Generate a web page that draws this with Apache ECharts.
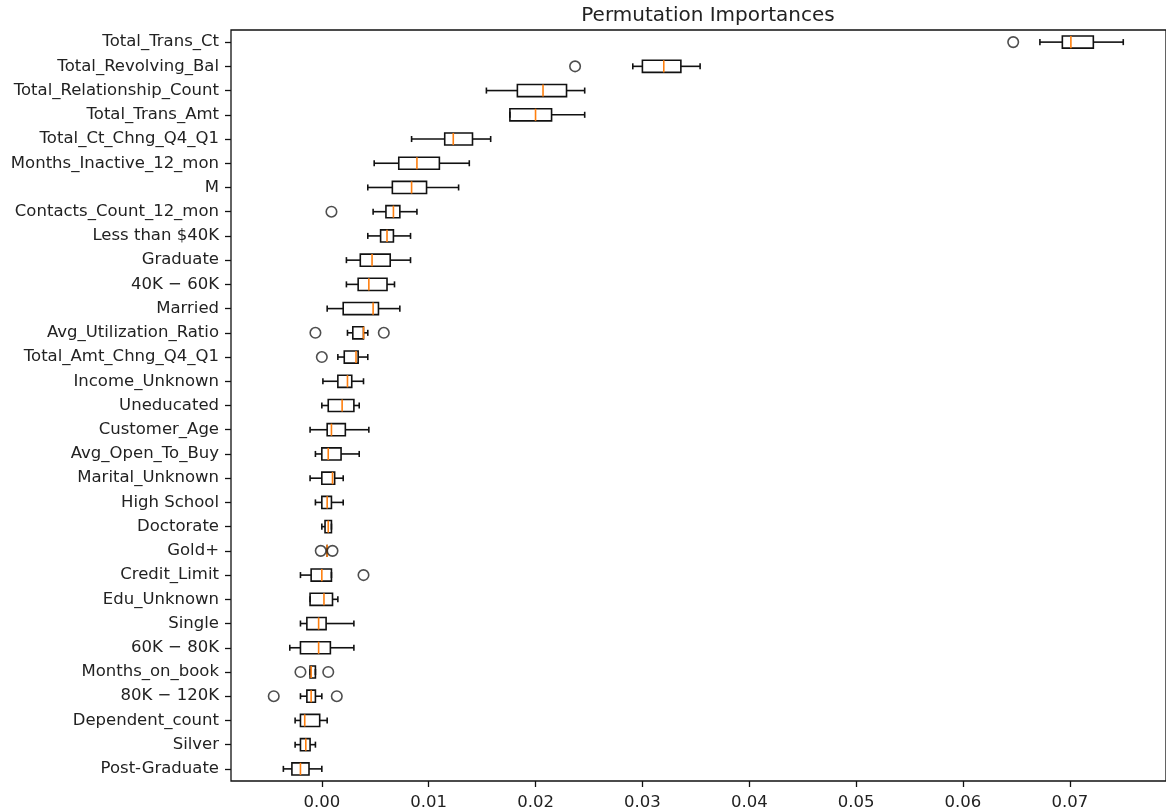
<!DOCTYPE html>
<html>
<head>
<meta charset="utf-8">
<script src="https://cdn.jsdelivr.net/npm/echarts@6/dist/echarts.min.js"></script>
<style>
html,body{margin:0;padding:0;background:#fff;}
#chart{width:1166px;height:812px;}
</style>
</head>
<body>
<div id="chart"></div>
<script>
var categories = ["Total_Trans_Ct","Total_Revolving_Bal","Total_Relationship_Count","Total_Trans_Amt","Total_Ct_Chng_Q4_Q1","Months_Inactive_12_mon","M","Contacts_Count_12_mon","Less than $40K","Graduate","40K \u2212 60K","Married","Avg_Utilization_Ratio","Total_Amt_Chng_Q4_Q1","Income_Unknown","Uneducated","Customer_Age","Avg_Open_To_Buy","Marital_Unknown","High School","Doctorate","Gold+","Credit_Limit","Edu_Unknown","Single","60K \u2212 80K","Months_on_book","80K \u2212 120K","Dependent_count","Silver","Post-Graduate"];
var whiskerLow = [0.0672,0.0291,0.0154,0.0176,0.0084,0.0049,0.0043,0.0048,0.0043,0.0023,0.0023,0.0005,0.0024,0.0015,0.0001,0.0000,-0.0011,-0.0006,-0.0011,-0.0006,0.0000,0.0005,-0.0020,-0.0011,-0.0020,-0.0030,-0.0011,-0.0020,-0.0025,-0.0025,-0.0036];
var q1 = [0.0693,0.0300,0.0183,0.0176,0.0115,0.0072,0.0066,0.0060,0.0055,0.0036,0.0034,0.0020,0.0029,0.0021,0.0015,0.0006,0.0005,0.0000,0.0000,0.0000,0.0003,0.0005,-0.0010,-0.0011,-0.0014,-0.0020,-0.0011,-0.0014,-0.0020,-0.0020,-0.0028];
var median = [0.0701,0.0320,0.0207,0.0200,0.0123,0.0089,0.0084,0.0067,0.0061,0.0047,0.0044,0.0048,0.0039,0.0032,0.0024,0.0019,0.0009,0.0006,0.0010,0.0005,0.0006,0.0005,0.0000,0.0002,-0.0003,-0.0003,-0.0010,-0.0010,-0.0016,-0.0015,-0.0020];
var q3 = [0.0722,0.0336,0.0229,0.0215,0.0141,0.0110,0.0098,0.0073,0.0067,0.0064,0.0061,0.0053,0.0039,0.0034,0.0028,0.0030,0.0022,0.0018,0.0012,0.0009,0.0009,0.0005,0.0009,0.0010,0.0004,0.0008,-0.0006,-0.0006,-0.0002,-0.0011,-0.0012];
var whiskerHigh = [0.0750,0.0354,0.0246,0.0246,0.0158,0.0138,0.0128,0.0089,0.0083,0.0083,0.0068,0.0073,0.0043,0.0043,0.0039,0.0035,0.0044,0.0035,0.0020,0.0020,0.0009,0.0005,0.0009,0.0015,0.0030,0.0030,-0.0006,0.0000,0.0005,-0.0006,0.0000];
// outliers: [category index, value]
var outliers = [[0,0.0647],[1,0.0237],[7,0.0009],[12,-0.0006],[12,0.0058],[13,0.0000],[21,-0.0001],[21,0.0010],[22,0.0039],[26,-0.0020],[26,0.0006],[27,-0.0045],[27,0.0014]];
var xTicks = [0.00,0.01,0.02,0.03,0.04,0.05,0.06,0.07];
var titleText = "Permutation Importances";

var boxData = categories.map(function(c, i){
  return [i, whiskerLow[i], q1[i], median[i], q3[i], whiskerHigh[i]];
});
var outlierData = outliers.map(function(o){ return [o[1], o[0]]; });

var FONT = "DejaVu Sans";
var TXT = "#222222";
var LW = 1.6;

var chart = echarts.init(document.getElementById('chart'), null, {renderer:'canvas'});
chart.setOption({
  backgroundColor: '#ffffff',
  animation: false,
  title: {
    text: titleText, left: 703, top: 1, textAlign: 'center',
    textStyle: {fontFamily: FONT, fontSize: 20, fontWeight: 'normal', color: TXT}
  },
  grid: {left: 231, right: -9, top: 30, bottom: 31, show: true, borderColor: '#111', borderWidth: 1.3, backgroundColor: 'transparent'},
  xAxis: {
    type: 'value', min: -0.0085, max: 0.0790,
    axisLine: {show: false, onZero: false},
    splitLine: {show: false},
    axisTick: {show: true, length: 6, lineStyle: {color: '#111', width: 1.3}, customValues: xTicks},
    axisLabel: {fontFamily: FONT, fontSize: 16.5, color: TXT, margin: 13, customValues: xTicks,
      formatter: function(v){ return v.toFixed(2); }}
  },
  yAxis: {
    type: 'category', data: categories, inverse: true,
    axisLine: {show: false, onZero: false},
    splitLine: {show: false},
    axisTick: {show: true, alignWithLabel: true, length: 6, lineStyle: {color: '#111', width: 1.3}},
    axisLabel: {fontFamily: FONT, fontSize: 16.5, color: TXT, margin: 12, interval: 0}
  },
  series: [
    {
      type: 'custom',
      data: boxData,
      encode: {x: [1,2,3,4,5], y: 0},
      renderItem: function(params, api){
        var idx = api.value(0);
        var pWl = api.coord([api.value(1), idx]);
        var pQ1 = api.coord([api.value(2), idx]);
        var pMd = api.coord([api.value(3), idx]);
        var pQ3 = api.coord([api.value(4), idx]);
        var pWh = api.coord([api.value(5), idx]);
        var band = api.size([0, 1])[1];
        var h = band * 0.5;
        var cap = h * 0.5;
        var cy = pQ1[1];
        var stroke = {stroke: '#111', lineWidth: LW, fill: null};
        return {
          type: 'group',
          children: [
            {type: 'rect', shape: {x: pQ1[0], y: cy - h/2, width: pQ3[0] - pQ1[0], height: h}, style: {stroke: '#111', lineWidth: LW, fill: 'none'}},
            {type: 'line', shape: {x1: pWl[0], y1: cy, x2: pQ1[0], y2: cy}, style: stroke},
            {type: 'line', shape: {x1: pQ3[0], y1: cy, x2: pWh[0], y2: cy}, style: stroke},
            {type: 'line', shape: {x1: pWl[0], y1: cy - cap/2, x2: pWl[0], y2: cy + cap/2}, style: stroke},
            {type: 'line', shape: {x1: pWh[0], y1: cy - cap/2, x2: pWh[0], y2: cy + cap/2}, style: stroke},
            {type: 'line', shape: {x1: pMd[0], y1: cy - h/2, x2: pMd[0], y2: cy + h/2}, style: {stroke: '#ff7f0e', lineWidth: LW, fill: null}}
          ]
        };
      }
    },
    {
      type: 'scatter',
      data: outlierData,
      symbol: 'circle',
      symbolSize: 10.5,
      itemStyle: {color: 'rgba(0,0,0,0)', borderColor: '#222', borderWidth: 1.6},
      emphasis: {disabled: true}
    }
  ]
});
</script>
</body>
</html>
